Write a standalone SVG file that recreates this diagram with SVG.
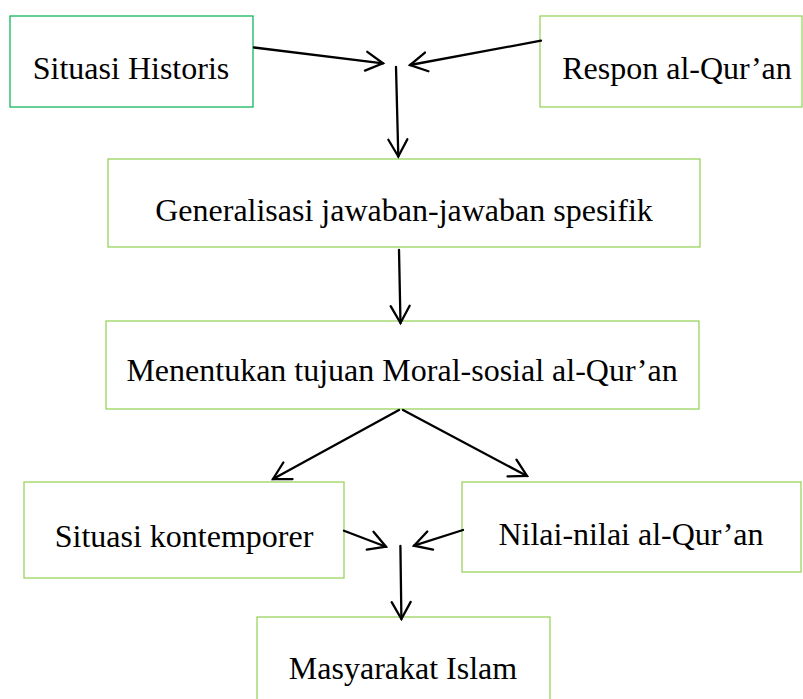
<svg xmlns="http://www.w3.org/2000/svg" width="803" height="699" viewBox="0 0 803 699">
<style>
.box{fill:#fff;stroke:#92D050;stroke-width:1.2}
.box1{fill:#fff;stroke:#00B050;stroke-width:1.2}
.lbl{font-family:"Liberation Serif","Times New Roman",serif;font-size:32px;fill:#000;text-anchor:middle}
.con{fill:none;stroke:#000;stroke-width:2.3;stroke-linecap:round}
</style>
<defs>
<marker id="ah" viewBox="-20 -12 24 24" refX="0" refY="0" markerWidth="24" markerHeight="24" markerUnits="userSpaceOnUse" orient="auto">
<path d="M-17,-9.5 L0,0 L-17,9.5" fill="none" stroke="#000" stroke-width="2.3" stroke-linecap="round" stroke-linejoin="miter"/>
</marker>
</defs>
<rect width="803" height="699" fill="#fff"/>
<g id="n1"><rect class="box1" x="10" y="16" width="243" height="91"/><text class="lbl" x="131" y="79">Situasi Historis</text></g>
<g id="n2"><rect class="box" x="540" y="16" width="262" height="91"/><text class="lbl" x="677" y="79">Respon al-Qur’an</text></g>
<g id="n3"><rect class="box" x="108" y="159" width="592" height="88"/><text class="lbl" x="404" y="221">Generalisasi jawaban-jawaban spesifik</text></g>
<g id="n4"><rect class="box" x="106" y="321" width="593" height="88"/><text class="lbl" x="402" y="381">Menentukan tujuan Moral-sosial al-Qur’an</text></g>
<g id="n5"><rect class="box" x="24" y="482" width="320" height="96"/><text class="lbl" x="184" y="547">Situasi kontemporer</text></g>
<g id="n6"><rect class="box" x="462" y="482" width="339" height="90"/><text class="lbl" x="631" y="545">Nilai-nilai al-Qur’an</text></g>
<g id="n7"><rect class="box" x="257" y="617" width="293" height="90"/><text class="lbl" x="403" y="679">Masyarakat Islam</text></g>
<g id="connectors">
<line class="con" x1="254" y1="47.5" x2="383" y2="63.3" marker-end="url(#ah)"/>
<line class="con" x1="541" y1="40.7" x2="410" y2="65" marker-end="url(#ah)"/>
<line class="con" x1="396" y1="67" x2="398.3" y2="156.5" marker-end="url(#ah)"/>
<line class="con" x1="399" y1="250" x2="400.5" y2="323" marker-end="url(#ah)"/>
<line class="con" x1="399" y1="410" x2="273" y2="479" marker-end="url(#ah)"/>
<line class="con" x1="403" y1="410" x2="527" y2="476" marker-end="url(#ah)"/>
<line class="con" x1="344" y1="530.7" x2="386" y2="546.7" marker-end="url(#ah)"/>
<line class="con" x1="463" y1="530" x2="414" y2="545.7" marker-end="url(#ah)"/>
<line class="con" x1="400.4" y1="546" x2="401.4" y2="619" marker-end="url(#ah)"/>
</g>
</svg>
